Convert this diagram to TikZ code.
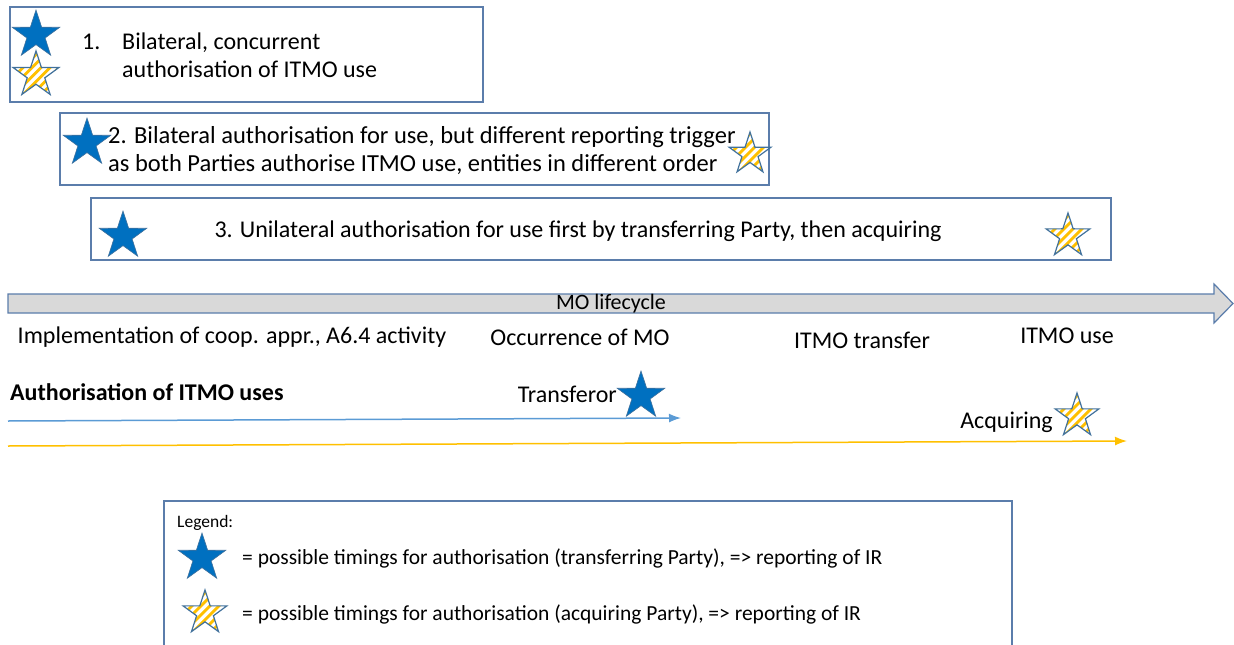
\documentclass[tikz,border=0pt]{standalone}
\usepackage{fontspec}
\setmainfont{Carlito}
\usetikzlibrary{shapes.geometric,positioning,arrows.meta}

\definecolor{boxline}{HTML}{5B7DAB}
\definecolor{starblue}{HTML}{0070C0}
\definecolor{staredge}{HTML}{41719C}
\definecolor{stripe}{HTML}{FFC000}
\definecolor{lineblue}{HTML}{5B9BD5}
\definecolor{lifegray}{HTML}{D9D9D9}

\tikzset{
  frame/.style={draw=boxline, line width=1.2pt},
  bluestar/.style={star, star points=5, star point ratio=2.6, inner sep=0pt,
    minimum size=#1, fill=starblue, draw=staredge, line width=0.6pt},
  stripestar/.style={star, star points=5, star point ratio=2.6, inner sep=0pt,
    minimum size=#1, draw=staredge, line width=1.2pt,
    path picture={
      \path (path picture bounding box.center) coordinate (pc);
      \foreach \k in {-36,-27,...,36}
        \draw[stripe, line width=2.8pt] ([shift={(\k pt-30pt,-30pt)}]pc) -- ([shift={(\k pt+30pt,30pt)}]pc);
    }},
  txt/.style={inner sep=0pt, font=\fontsize{24}{28}\selectfont},
  lbl/.style={inner sep=0pt, font=\fontsize{24}{28}\selectfont},
  leg/.style={inner sep=0pt, font=\fontsize{21.5}{24}\selectfont}
}

\begin{document}
\begin{tikzpicture}[x=1pt, y=-1pt]
  \useasboundingbox (0,0) rectangle (1234,645);

  % scenario 1
  \draw[frame] (10,7) rectangle (483,102);
  \node[bluestar=50] (s1a) at (36,35) {};
  \node[stripestar=48] (s1b) at (36,75) {};
  \node[txt, anchor=base west] (n1) at (82,49) {1.};
  \node[txt, anchor=base west] (t1a) at (122,49) {Bilateral, concurrent};
  \node[txt, anchor=base west] (t1b) at (122,77) {authorisation of ITMO use};

  % scenario 2
  \draw[frame] (60,113) rectangle (769,185);
  \node[bluestar=50] (s2a) at (87,143) {};
  \node[stripestar=44] (s2b) at (750,154) {};
  \node[txt, font=\fontsize{24.5}{28}\selectfont, anchor=base west] (t2a) at (108,143) {2. Bilateral authorisation for use, but different reporting trigger};
  \node[txt, font=\fontsize{24.5}{28}\selectfont, anchor=base west] (t2b) at (108,171) {as both Parties authorise ITMO use, entities in different order};

  % scenario 3
  \draw[frame] (91,198) rectangle (1111,260);
  \node[bluestar=50] (s3a) at (123,236) {};
  \node[stripestar=46] (s3b) at (1068,236) {};
  \node[txt, anchor=base] (t3) at (578,237) {3. Unilateral authorisation for use first by transferring Party, then acquiring};

  % MO lifecycle
  \draw[draw=boxline, fill=lifegray, line width=1.2pt]
    (8,294) -- (1214,294) -- (1214,284) -- (1233,303.5) -- (1214,323) -- (1214,313) -- (8,313) -- cycle;
  \node[inner sep=0pt, font=\fontsize{22}{26}\selectfont, anchor=base] (life) at (611,309) {MO lifecycle};
  \node[lbl, anchor=base] (p1) at (232,343) {Implementation of coop. appr., A6.4 activity};
  \node[lbl, anchor=base] (p2) at (580,345) {Occurrence of MO};
  \node[lbl, anchor=base] (p3) at (862,348) {ITMO transfer};
  \node[lbl, anchor=base] (p4) at (1067,343) {ITMO use};

  % authorisation lines
  \node[lbl, anchor=base west, font=\fontsize{24}{28}\selectfont\bfseries] (auth) at (10,400) {Authorisation of ITMO uses};
  \node[bluestar=50] (tstar) at (641,396) {};
  \node[lbl, anchor=base east] (tr) at (617,402) {Transferor};
  \node[stripestar=46] (astar) at (1077,416) {};
  \node[lbl, anchor=base east] (ac) at (1053,428) {Acquiring};
  \coordinate (b0) at (8,421);
  \coordinate (b1) at (681,418);
  \coordinate (y0) at (8,446);
  \coordinate (y1) at (1127,441);
  \draw[lineblue, line width=1.5pt, -{Latex[length=12pt,width=9pt]}] (b0) -- (b1);
  \draw[stripe, line width=1.5pt, -{Latex[length=12pt,width=9pt]}] (y0) -- (y1);

  % legend
  \draw[frame] (164,501) rectangle (1012,650);
  \node[inner sep=0pt, font=\fontsize{17.5}{20}\selectfont, anchor=base west] (legt) at (177,527) {Legend:};
  \node[bluestar=50] (lsa) at (202,558) {};
  \node[stripestar=46] (lsb) at (205,613) {};
  \node[leg, anchor=base west] (l1) at (242,564) {= possible timings for authorisation (transferring Party), => reporting of IR};
  \node[leg, anchor=base west] (l2) at (242,620) {= possible timings for authorisation (acquiring Party), => reporting of IR};
\end{tikzpicture}
\end{document}
